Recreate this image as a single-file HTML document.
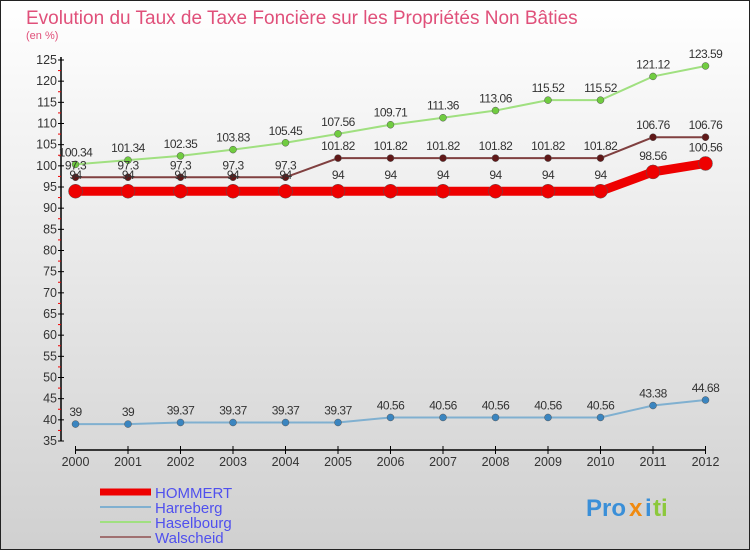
<!DOCTYPE html>
<html><head><meta charset="utf-8"><style>
body{margin:0;width:750px;height:550px;overflow:hidden;font-family:"Liberation Sans",sans-serif}
svg{display:block}
</style></head><body>
<svg width="750" height="550">
<defs><linearGradient id="bg" x1="0" y1="0" x2="0" y2="1"><stop offset="0" stop-color="#ffffff"/><stop offset="1" stop-color="#d0d0d0"/></linearGradient></defs>
<rect x="0.5" y="0.5" width="749" height="549" fill="url(#bg)" stroke="#222"/>
<text x="26" y="24" font-size="19" fill="#e0507a">Evolution du Taux de Taxe Foncière sur les Propriétés Non Bâties</text>
<text x="26" y="39" font-size="11" fill="#e0507a">(en %)</text>
<g id="axes"></g>
<g id="series"></g>
<g id="legend"></g>
<g font-size="24" font-weight="bold">
<text x="586" y="516" fill="#3a8fd8">Pro</text><text x="629" y="516" fill="#f08a10">x</text><text x="645" y="516" fill="#3a8fd8">i</text><text x="653" y="516" fill="#8cc83c">ti</text>
</g>
</svg>
<script>
const years=[2000,2001,2002,2003,2004,2005,2006,2007,2008,2009,2010,2011,2012];
const hommert=[94,94,94,94,94,94,94,94,94,94,94,98.56,100.56];
const harreberg=[39,39,39.37,39.37,39.37,39.37,40.56,40.56,40.56,40.56,40.56,43.38,44.68];
const haselbourg=[100.34,101.34,102.35,103.83,105.45,107.56,109.71,111.36,113.06,115.52,115.52,121.12,123.59];
const walscheid=[97.3,97.3,97.3,97.3,97.3,101.82,101.82,101.82,101.82,101.82,101.82,106.76,106.76];
const yTicks=[35,40,45,50,55,60,65,70,75,80,85,90,95,100,105,110,115,120,125];
const NS="http://www.w3.org/2000/svg";
const X=i=>75.5+i*52.5;
const Y=v=>441-(v-35)*(381/90);
function mk(t,a,p){const e=document.createElementNS(NS,t);for(const k in a)e.setAttribute(k,a[k]);p.appendChild(e);return e;}
const ax=document.getElementById('axes');
let l=mk('line',{x1:61,y1:Y(125)-3,x2:61,y2:Y(35),stroke:'#000','stroke-width':1.5},ax);


yTicks.forEach(v=>{
 mk('line',{x1:58,y1:Y(v),x2:64,y2:Y(v),stroke:'#000'},ax);
 if(v<125) mk('line',{x1:58,y1:Y(v+2.5),x2:61,y2:Y(v+2.5),stroke:'#e00'},ax);
 const t=mk('text',{x:57,y:Y(v)+4,'text-anchor':'end','font-size':12.5,fill:'#333'},ax);t.textContent=v;
 
 
});
l=mk('line',{x1:75.5,y1:450,x2:X(12),y2:450,stroke:'#000','stroke-width':1.5},ax);


years.forEach((y,i)=>{
 mk('line',{x1:X(i),y1:446,x2:X(i),y2:454,stroke:'#000'},ax);
 const t=mk('text',{x:X(i),y:466,'text-anchor':'middle','font-size':12.5,fill:'#333'},ax);t.textContent=y;
 
 
});
const sg=document.getElementById('series');
function series(name,vals,color,w,r,dot,labelDy){
 const g=mk('g',{},sg);
 
 
 const p=mk('polyline',{points:vals.map((v,i)=>X(i)+','+Y(v)).join(' '),fill:'none',stroke:color,'stroke-width':w},g);
 
 
 vals.forEach((v,i)=>{
  const c=mk('circle',{cx:X(i),cy:Y(v),r:r,fill:dot,stroke:'#555','stroke-width':0.5},g);
  
  
  const t=mk('text',{x:X(i),y:Y(v)+labelDy,'text-anchor':'middle','font-size':12,fill:'#333','letter-spacing':'-0.5'},g);
  t.textContent=v;
  
  
 });
}
series('harreberg',harreberg,'#80b0d0',2,3.5,'#3a85c0',-8);
series('haselbourg',haselbourg,'#a0e080',2,3.5,'#70cc40',-8);
series('walscheid',walscheid,'#804040',2,3.5,'#601818',-8);
series('hommert',hommert,'#ee0000',9,7,'#ee0000',-12);
const lg=document.getElementById('legend');
[['HOMMERT','#ee0000',7],['Harreberg','#80b0d0',2],['Haselbourg','#a0e080',2],['Walscheid','#a07070',2]].forEach((d,i)=>{
 const y=492+i*15;
 const g=mk('g',{},lg);
 
 
 mk('line',{x1:100,y1:y,x2:151,y2:y,stroke:d[1],'stroke-width':d[2]},g);
 const t=mk('text',{x:155,y:y+6,'font-size':15,fill:'#5050ee'},g);t.textContent=d[0];
});
</script>
</body></html>
